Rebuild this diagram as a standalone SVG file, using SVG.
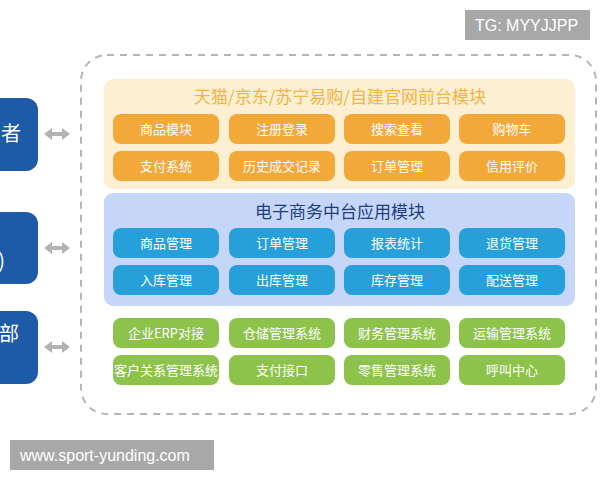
<svg xmlns="http://www.w3.org/2000/svg" width="600" height="480" viewBox="0 0 600 480">
<style>
text{font-family:"Noto Sans CJK SC","Noto Sans",sans-serif;}
.l{fill:#1d5aa8;}
.lt{fill:#fff;font-size:20px;text-anchor:end;}
.ob{fill:#f2a93a;}
.bb{fill:#27a0da;}
.gb{fill:#8dc34b;}
.bt{fill:#fff;font-size:13px;text-anchor:middle;}
.arr{fill:#b3b3b3;}
.wm{fill:#a8a8a8;}
.wt{fill:#fff;font-family:"Liberation Sans",Arial,sans-serif;font-size:16px;}
</style>
<rect width="600" height="480" fill="#fff"/>
<g id="left1"><rect class="l" x="-20" y="98" width="58" height="73" rx="12"/><text class="lt" x="21" y="141">消费者</text></g>
<g id="left2"><rect class="l" x="-20" y="212" width="58" height="72" rx="12"/><text class="lt" x="5" y="268">(B2B)</text></g>
<g id="left3"><rect class="l" x="-20" y="311" width="58" height="73" rx="12"/><text class="lt" x="19" y="341">内部</text></g>
<g id="connectors">
<polygon class="arr" points="44,134 52,128 52,132 62,132 62,128 70,134 62,140 62,136 52,136 52,140"/>
<polygon class="arr" points="44,248 52,242 52,246 62,246 62,242 70,248 62,254 62,250 52,250 52,254"/>
<polygon class="arr" points="44,347 52,341 52,345 62,345 62,341 70,347 62,353 62,349 52,349 52,353"/>
</g>
<g id="container"><rect x="81" y="55" width="515" height="359" rx="26" fill="none" stroke="#b5b5b5" stroke-width="2" stroke-dasharray="7,6"/></g>
<g id="front">
<rect x="104" y="79" width="471" height="110" rx="9" fill="#fcefd2"/>
<text x="340" y="103" fill="#f1b445" font-size="17" text-anchor="middle">天猫/京东/苏宁易购/自建官网前台模块</text>
<rect class="ob" x="113" y="114" width="106" height="30" rx="8"/><text class="bt" x="166" y="134">商品模块</text>
<rect class="ob" x="229" y="114" width="106" height="30" rx="8"/><text class="bt" x="282" y="134">注册登录</text>
<rect class="ob" x="344" y="114" width="106" height="30" rx="8"/><text class="bt" x="397" y="134">搜索查看</text>
<rect class="ob" x="459" y="114" width="106" height="30" rx="8"/><text class="bt" x="512" y="134">购物车</text>
<rect class="ob" x="113" y="151" width="106" height="30" rx="8"/><text class="bt" x="166" y="171">支付系统</text>
<rect class="ob" x="229" y="151" width="106" height="30" rx="8"/><text class="bt" x="282" y="171">历史成交记录</text>
<rect class="ob" x="344" y="151" width="106" height="30" rx="8"/><text class="bt" x="397" y="171">订单管理</text>
<rect class="ob" x="459" y="151" width="106" height="30" rx="8"/><text class="bt" x="512" y="171">信用评价</text>
</g>
<g id="middle">
<rect x="104" y="193" width="471" height="113" rx="9" fill="#c6d6f9"/>
<text x="340" y="218" fill="#1f3e7c" font-size="17" text-anchor="middle">电子商务中台应用模块</text>
<rect class="bb" x="113" y="228" width="106" height="30" rx="8"/><text class="bt" x="166" y="248">商品管理</text>
<rect class="bb" x="229" y="228" width="106" height="30" rx="8"/><text class="bt" x="282" y="248">订单管理</text>
<rect class="bb" x="344" y="228" width="106" height="30" rx="8"/><text class="bt" x="397" y="248">报表统计</text>
<rect class="bb" x="459" y="228" width="106" height="30" rx="8"/><text class="bt" x="512" y="248">退货管理</text>
<rect class="bb" x="113" y="265" width="106" height="30" rx="8"/><text class="bt" x="166" y="285">入库管理</text>
<rect class="bb" x="229" y="265" width="106" height="30" rx="8"/><text class="bt" x="282" y="285">出库管理</text>
<rect class="bb" x="344" y="265" width="106" height="30" rx="8"/><text class="bt" x="397" y="285">库存管理</text>
<rect class="bb" x="459" y="265" width="106" height="30" rx="8"/><text class="bt" x="512" y="285">配送管理</text>
</g>
<g id="backend">
<rect class="gb" x="113" y="318" width="106" height="30" rx="8"/><text class="bt" x="166" y="338">企业ERP对接</text>
<rect class="gb" x="229" y="318" width="106" height="30" rx="8"/><text class="bt" x="282" y="338">仓储管理系统</text>
<rect class="gb" x="344" y="318" width="106" height="30" rx="8"/><text class="bt" x="397" y="338">财务管理系统</text>
<rect class="gb" x="459" y="318" width="106" height="30" rx="8"/><text class="bt" x="512" y="338">运输管理系统</text>
<rect class="gb" x="113" y="355" width="106" height="30" rx="8"/><text class="bt" x="166" y="375">客户关系管理系统</text>
<rect class="gb" x="229" y="355" width="106" height="30" rx="8"/><text class="bt" x="282" y="375">支付接口</text>
<rect class="gb" x="344" y="355" width="106" height="30" rx="8"/><text class="bt" x="397" y="375">零售管理系统</text>
<rect class="gb" x="459" y="355" width="106" height="30" rx="8"/><text class="bt" x="512" y="375">呼叫中心</text>
</g>
<g id="watermark-tg"><rect class="wm" x="465" y="10" width="125" height="30"/><text class="wt" x="475" y="31">TG: MYYJJPP</text></g>
<g id="watermark-url"><rect class="wm" x="10" y="440" width="204" height="30"/><text class="wt" x="20" y="461">www.sport-yunding.com</text></g>
</svg>
